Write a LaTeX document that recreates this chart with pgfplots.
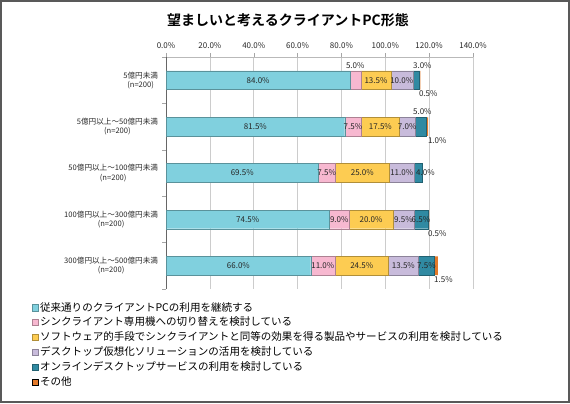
\documentclass[border=0pt]{standalone}
\usepackage{pgfplots}
\pgfplotsset{compat=1.18}
\usepackage{fontspec}
\setmainfont{Noto Sans CJK JP}[BoldFont={Noto Sans CJK JP Bold}]
\definecolor{c1}{RGB}{128,208,222}
\definecolor{c2}{RGB}{247,184,208}
\definecolor{c3}{RGB}{253,204,82}
\definecolor{c4}{RGB}{200,187,219}
\definecolor{c5}{RGB}{48,138,162}
\definecolor{c6}{RGB}{228,122,42}
\pgfplotsset{myleg/.style={legend image code/.code={\draw[##1,line width=0.3pt] (0pt,-2.3pt) rectangle (4.6pt,2.3pt);}}}
\begin{document}
\begin{tikzpicture}
\draw[black!65, line width=1.3pt] (0.65pt,0.65pt) rectangle (426.85pt,301.6pt);
\node[font=\bfseries\fontsize{10.5}{12}\selectfont] at (216pt,287.25pt) {望ましいと考えるクライアントPC形態};
\begin{axis}[
  at={(124.5pt,85.5pt)}, anchor=south west,
  scale only axis, width=230.25pt, height=174pt,
  xbar stacked, bar width=14pt,
  xmin=0, xmax=140, ymin=-0.5, ymax=4.5, y dir=reverse,
  axis x line*=top, axis y line*=left,
  x axis line style={draw=gray!55,-},
  y axis line style={draw=gray!80!black,-},
  xtick={0,20,...,140},
  xmajorgrids, grid style={gray!40, line width=0.5pt},
  tick align=outside, major tick length=3pt,
  tick style={draw=gray!70},
  /pgf/number format/assume math mode=true,
  xticklabel={\pgfmathprintnumber[fixed,fixed zerofill,precision=1]{\tick}\%},
  xticklabel style={font=\fontsize{6}{7}\selectfont, text=black!85, yshift=0pt},
  ytick={-0.5,0.5,...,4.5}, yticklabels={},
  extra y ticks={0,1,2,3,4},
  extra y tick labels={{5億円未満\\(n=200)},{5億円以上～50億円未満\\(n=200)},{50億円以上～100億円未満\\(n=200)},{100億円以上～300億円未満\\(n=200)},{300億円以上～500億円未満\\(n=200)}},
  extra y tick style={major tick length=0pt, yticklabel style={align=center, font=\fontsize{5.7}{6.9}\selectfont, text=black!85, xshift=-2.5pt}},
  legend style={at={(rel axis cs:-0.4365,-0.05)}, anchor=north west, draw=none, fill=none,
    font=\fontsize{7.9}{9}\selectfont, row sep=0.95pt, inner sep=0pt, nodes={inner sep=1pt}},
  legend cell align=left,
]
\addplot[fill=c1, draw=c1!70!black, line width=0.3pt, myleg] coordinates {(84.0,0) (81.5,1) (69.5,2) (74.5,3) (66.0,4)};
\addplot[fill=c2, draw=c2!70!black, line width=0.3pt, myleg] coordinates {(5.0,0) (7.5,1) (7.5,2) (9.0,3) (11.0,4)};
\addplot[fill=c3, draw=c3!70!black, line width=0.3pt, myleg] coordinates {(13.5,0) (17.5,1) (25.0,2) (20.0,3) (24.5,4)};
\addplot[fill=c4, draw=c4!70!black, line width=0.3pt, myleg] coordinates {(10.0,0) (7.0,1) (11.0,2) (9.5,3) (13.5,4)};
\addplot[fill=c5, draw=c5!70!black, line width=0.3pt, myleg] coordinates {(3.0,0) (5.0,1) (4.0,2) (6.5,3) (7.5,4)};
\addplot[fill=c6, draw=none, myleg] coordinates {(0.5,0) (1.0,1) (0.0,2) (0.5,3) (1.5,4)};
\legend{従来通りのクライアントPCの利用を継続する,シンクライアント専用機への切り替えを検討している,ソフトウェア的手段でシンクライアントと同等の効果を得る製品やサービスの利用を検討している,デスクトップ仮想化ソリューションの活用を検討している,オンラインデスクトップサービスの利用を検討している,その他}
\end{axis}
\begin{axis}[
  at={(124.5pt,85.5pt)}, anchor=south west,
  scale only axis, width=230.25pt, height=174pt,
  xmin=0, xmax=140, ymin=-0.5, ymax=4.5, y dir=reverse, hide axis,
  /pgf/number format/assume math mode=true,
]
\addplot[only marks, mark=none, point meta=explicit,
  nodes near coords={\pgfmathprintnumber[fixed,fixed zerofill,precision=1,assume math mode=true]{\pgfplotspointmeta}\%},
  every node near coord/.style={anchor=center, inner sep=0pt, font=\fontsize{6}{7}\selectfont, text=black!85}]
  table[x=x, y=y, meta=v] {
x y v
42.0 0 84.0
86.3 -0.32 5.0
95.75 0 13.5
107.5 0 10.0
116.9 -0.32 3.0
119.6 0.29 0.5
40.75 1 81.5
85.25 1 7.5
97.75 1 17.5
110.0 1 7.0
116.9 0.68 5.0
123.7 1.30 1.0
34.75 2 69.5
73.25 2 7.5
89.5 2 25.0
107.5 2 11.0
118.3 2 4.0
37.25 3 74.5
79.0 3 9.0
93.5 3 20.0
108.25 3 9.5
116.25 3 6.5
123.7 3.30 0.5
33.0 4 66.0
71.5 4 11.0
89.25 4 24.5
108.25 4 13.5
118.75 4 7.5
126.5 4.29 1.5
};
\end{axis}
\end{tikzpicture}
\end{document}
